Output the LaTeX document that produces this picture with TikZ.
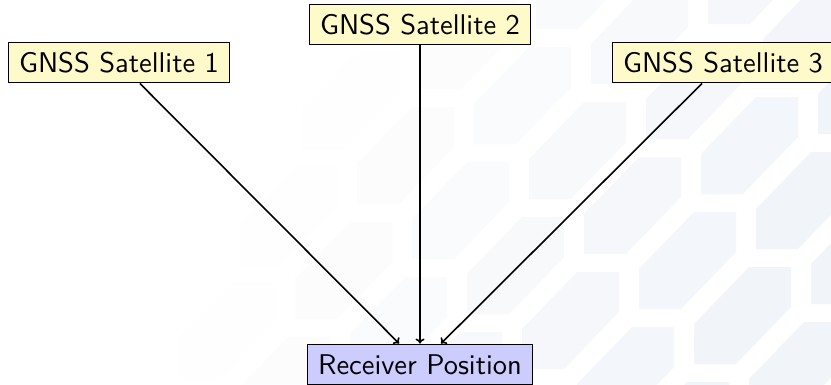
\documentclass[tikz,border=0pt]{standalone}
\usetikzlibrary{arrows.meta}
\definecolor{hexc}{RGB}{241,244,249}
\definecolor{satyellow}{RGB}{255,250,202}
\definecolor{rcvblue}{RGB}{204,204,255}
\begin{document}
\begin{tikzpicture}[x=1pt,y=-1pt,
  box/.style={draw=black, line width=1pt, font=\sffamily, scale=2.85,
    inner xsep=3.6pt, inner ysep=0pt, minimum height=13.7pt},
  sat/.style={box, fill=satyellow},
  rcv/.style={box, fill=rcvblue},
  link/.style={-{To[length=5pt,width=9pt]}, line width=1.6pt}]
\useasboundingbox (0,0) rectangle (831,384);
\clip (0,0) rectangle (831,384);
\fill[white] (0,0) rectangle (831,384);
\foreach \i in {-8,...,8}{
  \foreach \j in {-4,...,5}{
    \pgfmathsetmacro\hx{639+55*\i+62*\j}
    \pgfmathsetmacro\hy{212+55*\i-115*\j}
    \pgfmathsetmacro\op{max(0,min(1,(\hx+0.5*\hy-300)/550))}
    \fill[hexc, opacity=\op] (\hx+55,\hy) -- ++(42,0) -- ++(0,40) -- ++(-55,57) -- ++(-42,0) -- ++(0,-40) -- cycle;
  }
}
\node[sat] (s1) at (119,62.5) {GNSS Satellite 1};
\node[sat] (s2) at (420,24.5) {GNSS Satellite 2};
\node[sat] (s3) at (723,62.5) {GNSS Satellite 3};
\node[rcv] (r) at (420,364.5) {Receiver Position};
\draw[link] (s1) -- (r);
\draw[link] (s2) -- (r);
\draw[link] (s3) -- (r);
\end{tikzpicture}
\end{document}
